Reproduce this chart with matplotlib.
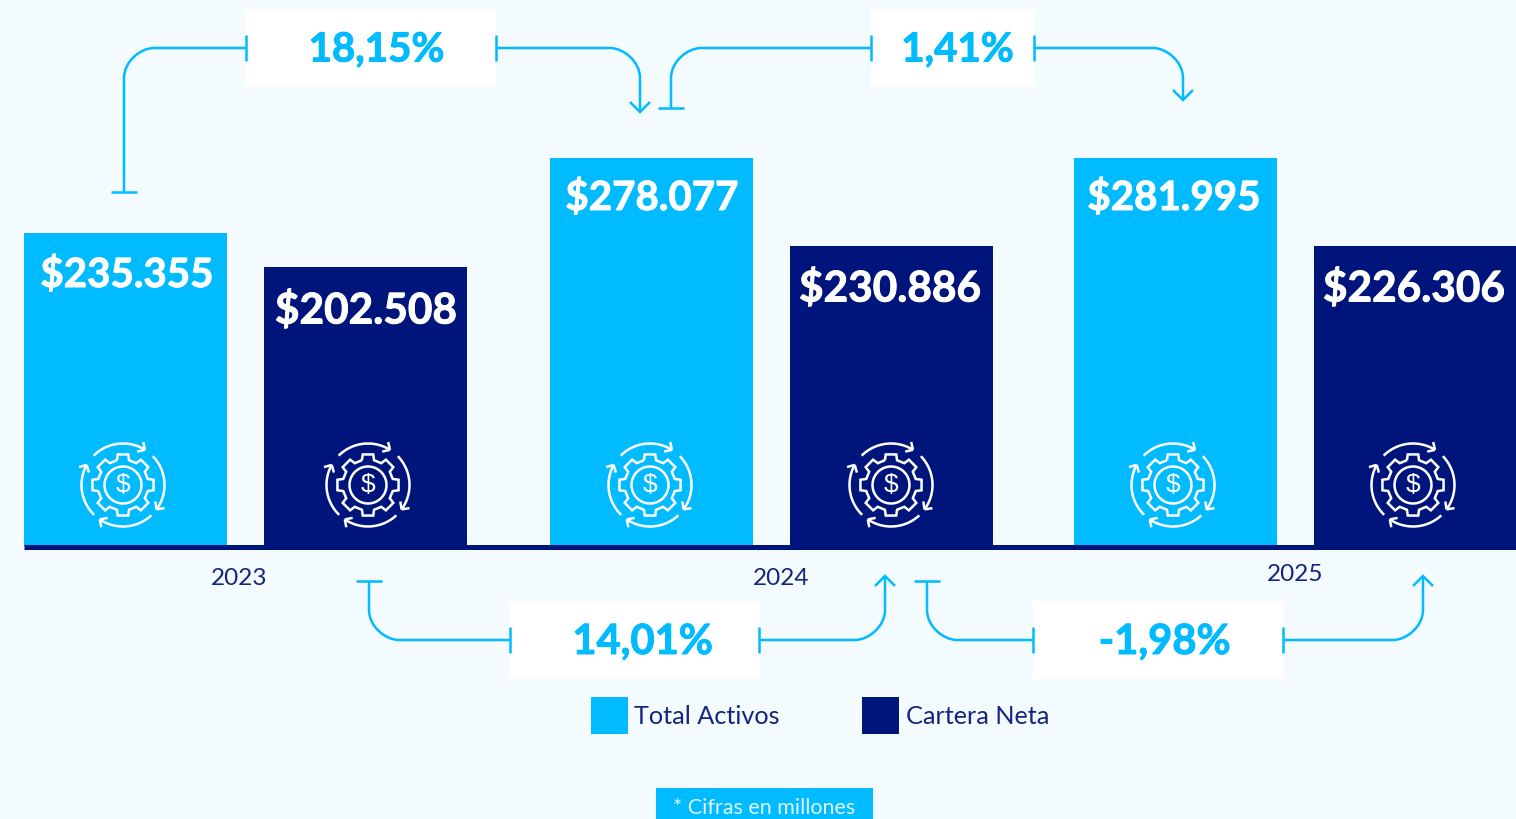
import numpy as np
import matplotlib
matplotlib.use("Agg")
import matplotlib.pyplot as plt
import matplotlib.patheffects as pe
from matplotlib.path import Path
from matplotlib.patches import PathPatch, Rectangle

# ---- data ----
years = ["2023", "2024", "2025"]
year_label_x = [239, 781, 1295]
year_label_y = [578.5, 578.5, 574.5]
series_names = ["Total Activos", "Cartera Neta"]
total_activos = [235355, 278077, 281995]
cartera_neta = [202508, 230886, 226306]
# Bars in the source are not drawn proportional to their values: drawn heights
total_drawn_height = [311, 386, 386]
cartera_drawn_height = [277, 298, 298]
total_left = [24, 550, 1074]
cartera_left = [264, 790, 1314]
total_icon_x = [123, 650, 1173]
cartera_icon_x = [368, 891, 1413]
total_label_x = [127, 652, 1174]
cartera_label_x = [366, 890, 1414]
total_label_y = [275, 198, 198]
cartera_label_y = [311, 289, 289]
growth_top = ["18,15%", "1,41%"]
growth_bottom = ["14,01%", "-1,98%"]
note = "* Cifras en millones"

BG = "#F3FBFF"
CYAN = "#00BBFF"
NAVY = "#00157C"
TEXT = "#14247F"
FONT = "Lato"
BASE = 544
BAR_W = 203
LW = 1.8
OVERLAP = 2  # bars run slightly under the baseline rule

plt.rcParams["font.family"] = [FONT, "DejaVu Sans"]
fig = plt.figure(figsize=(15.16, 8.19), dpi=100, facecolor=BG)
ax = fig.add_axes([0, 0, 1, 1])
ax.set_xlim(0, 1516)
ax.set_ylim(819, 0)
ax.axis("off")


def stroke(verts, codes=None, color=CYAN, lw=LW, z=5):
    if codes is None:
        codes = [Path.MOVETO] + [Path.LINETO] * (len(verts) - 1)
    ax.add_patch(PathPatch(Path(verts, codes), fc="none", ec=color, lw=lw, zorder=z,
                           capstyle="butt", joinstyle="miter"))


def connector(x0, y0, x1, y1, r=30):
    """vertical from (x0,y0) to level y1, rounded, then horizontal to x1"""
    sx = np.sign(x1 - x0)
    sy = np.sign(y1 - y0)
    k = 0.45
    verts = [(x0, y0), (x0, y1 - sy * r),
             (x0, y1 - sy * r * k), (x0 + sx * r * (1 - k), y1), (x0 + sx * r, y1),
             (x1, y1)]
    codes = [Path.MOVETO, Path.LINETO, Path.CURVE4, Path.CURVE4, Path.CURVE4, Path.LINETO]
    stroke(verts, codes)


def tbar(x, y, half=13):
    stroke([(x - half, y), (x + half, y)])


def vtick(x, y, half=13):
    stroke([(x, y - half), (x, y + half)])


def head(x, y, direction, s=10):
    stroke([(x - s, y - direction * s), (x, y), (x + s, y - direction * s)])


box_dx = {"18,15%": 6, "1,41%": 5, "14,01%": 8, "-1,98%": 6}
box_fs = {"18,15%": 29, "1,41%": 29, "14,01%": 30, "-1,98%": 30}


def box(x0, x1, y0, y1, label):
    ax.add_patch(Rectangle((x0, y0), x1 - x0, y1 - y0, fc="white", ec="none", zorder=3))
    ax.text((x0 + x1) / 2 + box_dx[label], (y0 + y1) / 2 + 2, label, color=CYAN,
            fontsize=box_fs[label], fontweight="bold", ha="center", va="center", zorder=6,
            path_effects=[pe.withStroke(linewidth=0.7, foreground=CYAN)])


def icon(cx, cy, color="white"):
    lw = 1.8
    # gear
    n = 8
    pts = []
    R1, R2 = 31, 25.5
    for i in range(n):
        a = 2 * np.pi * i / n - np.pi / 2
        w_out = 0.17
        w_in = 0.24
        pts += [(R2, a - w_in), (R1, a - w_out), (R1, a + w_out), (R2, a + w_in)]
    xy = [(cx + r * np.cos(a), cy + r * np.sin(a)) for r, a in pts]
    stroke(xy + [xy[0]], color=color, lw=lw, z=4)
    # inner circle
    t = np.radians(np.arange(0, 361, 6))
    stroke(list(zip(cx + 18.5 * np.cos(t), cy + 18.5 * np.sin(t))), color=color, lw=lw, z=4)
    ax.text(cx, cy, "$", color=color, fontsize=19, ha="center", va="center", zorder=4,
            family="Liberation Sans")
    # four arrows circulating clockwise
    for a0, a1 in [(-135, -58), (-44, 36), (47, 124), (134, 209)]:
        t = np.radians(np.linspace(a0, a1, 24))
        R = 41.5
        xs, ys = cx + R * np.cos(t), cy + R * np.sin(t)
        stroke(list(zip(xs, ys)), color=color, lw=lw, z=4)
        e = np.radians(a1)
        tang = np.array([-np.sin(e), np.cos(e)])
        for rot in (135, -135):
            c, s = np.cos(np.radians(rot)), np.sin(np.radians(rot))
            d = np.array([c * tang[0] - s * tang[1], s * tang[0] + c * tang[1]])
            stroke([(xs[-1], ys[-1]), (xs[-1] + 8 * d[0], ys[-1] + 8 * d[1])], color=color, lw=lw, z=4)


# bars
ax.bar(total_left, [-(h + OVERLAP) for h in total_drawn_height], width=BAR_W, bottom=BASE + OVERLAP,
       align="edge", color=CYAN, zorder=2)
ax.bar(cartera_left, [-(h + OVERLAP) for h in cartera_drawn_height], width=BAR_W, bottom=BASE + OVERLAP,
       align="edge", color=NAVY, zorder=2)
ax.plot([24, 1516], [546.5, 546.5], color=NAVY, lw=3.6, solid_capstyle="butt", zorder=3)

for vals, xs, ys, fs in [(total_activos, total_label_x, total_label_y, 29),
                         (cartera_neta, cartera_label_x, cartera_label_y, 30.5)]:
    for v, x, y in zip(vals, xs, ys):
        ax.text(x, y, "$" + f"{v:,}".replace(",", "."), color="white", fontsize=fs,
                fontweight="bold", ha="center", va="center", zorder=4,
                path_effects=[pe.withStroke(linewidth=0.7, foreground="white")])

for x in total_icon_x + cartera_icon_x:
    icon(x, 485)

for y_txt, x, yy in zip(years, year_label_x, year_label_y):
    ax.text(x, yy, y_txt, color=TEXT, fontsize=17.5, ha="center", va="center")

# top connectors
box(245, 496, 9, 87, growth_top[0])
box(871, 1034, 9, 87, growth_top[1])
connector(124, 192, 246, 48); tbar(124, 192); vtick(246, 48)
connector(640, 112, 496, 48); head(640, 112, 1); vtick(496, 48)
connector(671, 108, 871, 48); tbar(671, 108); vtick(871, 48)
connector(1183, 100, 1034, 48); head(1183, 100, 1); vtick(1034, 48)

# bottom connectors
box(509, 760, 601, 679, growth_bottom[0])
box(1033, 1284, 601, 679, growth_bottom[1])
connector(369, 581, 510, 640); tbar(369, 581); vtick(510, 640)
connector(885, 576, 759, 640); head(885, 576, -1); vtick(759, 640)
connector(927, 581, 1033, 640); tbar(927, 581); vtick(1033, 640)
connector(1423, 576, 1283, 640); head(1423, 576, -1); vtick(1283, 640)

# legend
for x, c, name, tx in [(591, CYAN, series_names[0], 634), (862, NAVY, series_names[1], 906)]:
    ax.add_patch(Rectangle((x, 697), 37, 37, fc=c, ec="none"))
    ax.text(tx, 717, name, color=TEXT, fontsize=18.2, ha="left", va="center")

# note
ax.add_patch(Rectangle((656, 788), 217, 31, fc=CYAN, ec="none"))
ax.text(764, 807.5, note, color="#DDF6FF", fontsize=15.5, ha="center", va="center")

fig.savefig("out.png", dpi=100, facecolor=BG)
